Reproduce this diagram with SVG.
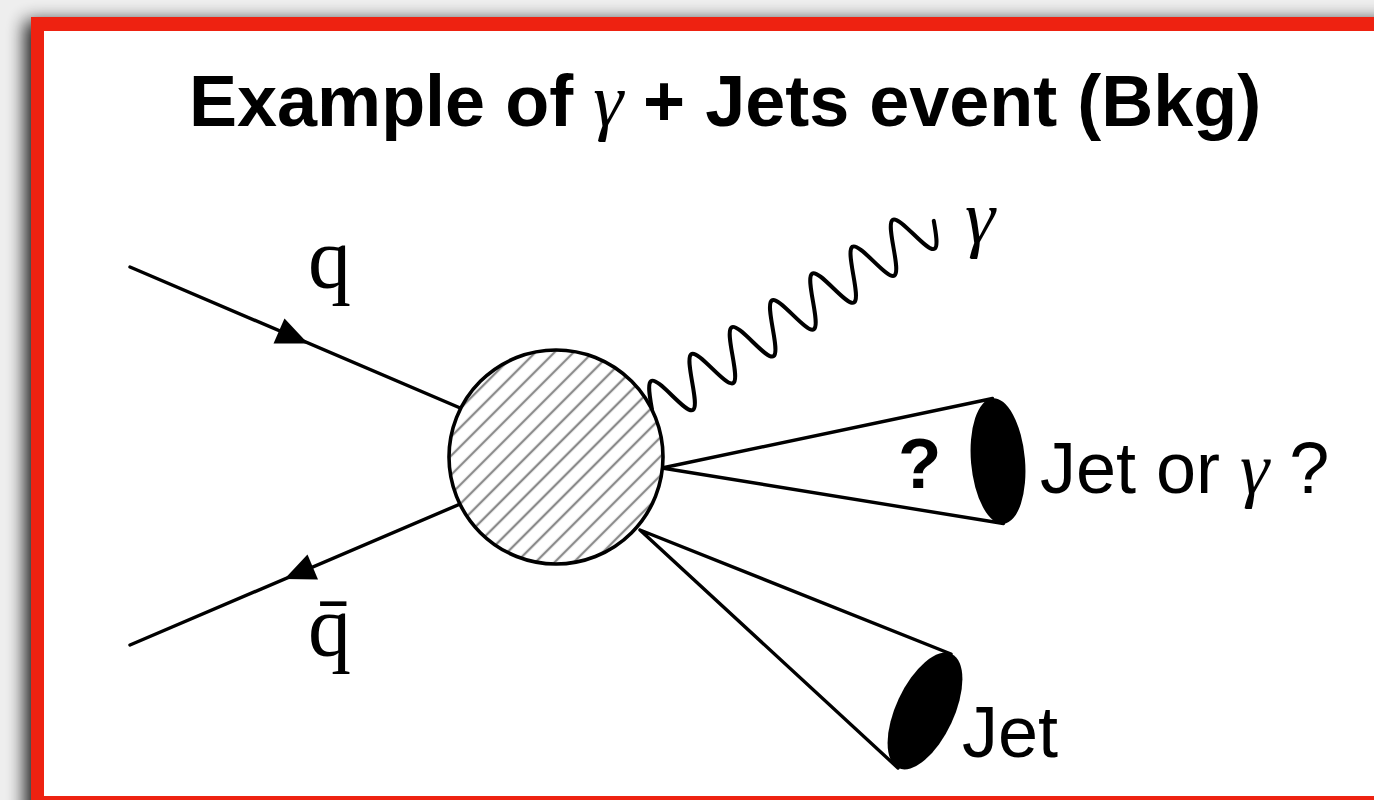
<svg xmlns="http://www.w3.org/2000/svg" width="1374" height="800" viewBox="0 0 1374 800">
<defs>
<style>
.ln{stroke:#000;stroke-width:3.4;fill:none;stroke-linecap:round;stroke-linejoin:round}
.wave{stroke:#000;stroke-width:4;fill:none;stroke-linecap:round;stroke-linejoin:round}
.ar{fill:#000}
.sans{font-family:"Liberation Sans",Arial,Helvetica,sans-serif;fill:#000}
.serif{font-family:"Liberation Serif","Times New Roman",serif;fill:#000}
.gi{font-family:"Liberation Serif","Times New Roman",serif;font-style:italic;font-weight:normal}
</style>
<pattern id="hatch" patternUnits="userSpaceOnUse" width="20" height="13.5" patternTransform="rotate(-45)">
<rect width="20" height="13.5" fill="#fff"/>
<line x1="0" y1="6.75" x2="20" y2="6.75" stroke="#8a8a8a" stroke-width="2.3"/>
</pattern>
<filter id="sh" x="-0.1" y="-0.1" width="1.2" height="1.2">
<feGaussianBlur stdDeviation="9"/>
</filter>
</defs>
<rect x="0" y="0" width="1374" height="800" fill="#eeeeee"/>
<rect x="25" y="21" width="1400" height="820" fill="#000" opacity="0.9" filter="url(#sh)"/>
<rect x="31" y="17" width="1400" height="800" fill="#EE2211"/>
<rect x="44" y="31" width="1400" height="765" fill="#fff"/>

<g id="title">
<text x="189" y="126" class="sans" font-size="72" font-weight="bold">Example of <tspan class="gi" font-size="76">γ</tspan> + Jets event (Bkg)</text>
</g>

<g id="connectors">
<line class="ln" x1="130" y1="267" x2="500" y2="425"/>
<polygon class="ar" points="308,343.5 273.5,343.5 284.5,318.5"/>
<line class="ln" x1="130" y1="645" x2="500" y2="487"/>
<polygon class="ar" points="284.5,579 307.5,554.5 318,579.5"/>
<path id="photon" class="wave" vector-effect="non-scaling-stroke" transform="matrix(0.832 -0.555 0.4975 0.96 651.9 408.9) scale(1 1.1)" d="M0,0 c3.946,-10.25 7.846,-20 12.1,-20 s8.154,9.75 12.1,20 s7.846,20 12.1,20 s8.154,-9.75 12.1,-20 s7.846,-20 12.1,-20 s8.154,9.75 12.1,20 s7.846,20 12.1,20 s8.154,-9.75 12.1,-20 s7.846,-20 12.1,-20 s8.154,9.75 12.1,20 s7.846,20 12.1,20 s8.154,-9.75 12.1,-20 s7.846,-20 12.1,-20 s8.154,9.75 12.1,20 s7.846,20 12.1,20 s8.154,-9.75 12.1,-20 s7.846,-20 12.1,-20 s8.154,9.75 12.1,20 s7.846,20 12.1,20 s8.154,-9.75 12.1,-20 s7.846,-20 12.1,-20 s8.154,9.75 12.1,20 s7.846,20 12.1,20 s8.154,-9.75 12.1,-20 s7.846,-20 12.1,-20 s8.154,9.75 12.1,20 s7.846,20 12.1,20 s8.154,-9.75 12.1,-20"/>
</g>

<g id="cone-jet-or-gamma">
<path class="ln" d="M662,468 L992.5,398.5 M662,468 L1003.5,523.5"/>
<ellipse cx="998" cy="461" rx="27" ry="63" transform="rotate(-5 998 461)" fill="#000"/>
<text x="898" y="488" class="sans" font-size="71" font-weight="bold">?</text>
<text x="1040" y="493" class="sans" font-size="72">Jet or <tspan class="gi" font-size="74">γ</tspan> ?</text>
</g>

<g id="cone-jet">
<path class="ln" d="M640,530 L951,654 M640,530 L898,768"/>
<ellipse cx="925" cy="711" rx="29" ry="63" transform="rotate(25 925 711)" fill="#000"/>
<text x="962" y="757" class="sans" font-size="72">Jet</text>
</g>

<g id="blob">
<circle cx="556" cy="457" r="107" fill="url(#hatch)" stroke="#000" stroke-width="3.6"/>
</g>

<g id="labels">
<text x="308" y="287" class="serif" font-size="86">q</text>
<text x="308" y="655" class="serif" font-size="86">q̄</text>
<text x="965" y="243" class="gi" font-size="76">γ</text>
</g>
</svg>
